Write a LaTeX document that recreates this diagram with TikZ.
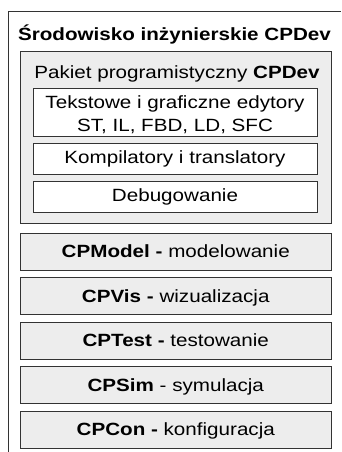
\documentclass[tikz,border=0pt]{standalone}
\usepackage{fontspec}
\setmainfont[FakeStretch=1.165]{Liberation Sans}
\begin{document}
\begin{tikzpicture}[x=1pt, y=-1pt,
	graybox/.style={draw=black!80, fill=black!7, line width=0.8pt, minimum width=310.5pt, inner sep=0pt},
	whitebox/.style={draw=black!80, fill=white, line width=0.8pt, minimum width=284pt, inner sep=0pt},
	textfont/.style={font=\fontsize{17.7}{23.3}\selectfont},
	boxtext/.style={textfont, text height=12.7pt, text depth=0pt}]
	\useasboundingbox (0,0) rectangle (341,452);
	\draw[line width=0.8pt, color=black!80] (8,452) -- (8,11) -- (341,11);
	\node[font=\fontsize{17.7}{23.3}\selectfont\bfseries, anchor=base] (title) at (174.5,41) {Środowisko inżynierskie CPDev};
	\node[graybox, minimum height=172pt] (pakiet) at (175.75,137) {};
	\node[textfont, anchor=base] (pakietlabel) at (177,78) {Pakiet programistyczny \textbf{CPDev}};
	\node[whitebox, minimum height=48pt] (edytory) at (175,112) {};
	\node[textfont, inner sep=0pt, align=center] (edytorytext) at (175,114.8) {Tekstowe i graficzne edytory\\ST, IL, FBD, LD, SFC};
	\node[whitebox, minimum height=31pt, boxtext, text depth=3pt] (kompilatory) at (175,158.5) {Kompilatory i translatory};
	\node[whitebox, minimum height=31pt, boxtext, text depth=3pt] (debug) at (175,196.5) {Debugowanie};
	\node[graybox, minimum height=37pt, boxtext] (cpmodel) at (175.75,251.5) {\textbf{CPModel -} modelowanie};
	\node[graybox, minimum height=37pt, boxtext] (cpvis) at (175.75,296) {\textbf{CPVis -} wizualizacja};
	\node[graybox, minimum height=37pt, boxtext] (cptest) at (175.75,340.5) {\textbf{CPTest -} testowanie};
	\node[graybox, minimum height=37pt, boxtext] (cpsim) at (175.75,385) {\textbf{CPSim} - symulacja};
	\node[graybox, minimum height=37pt, boxtext] (cpcon) at (175.75,429.5) {\textbf{CPCon -} konfiguracja};
\end{tikzpicture}
\end{document}
